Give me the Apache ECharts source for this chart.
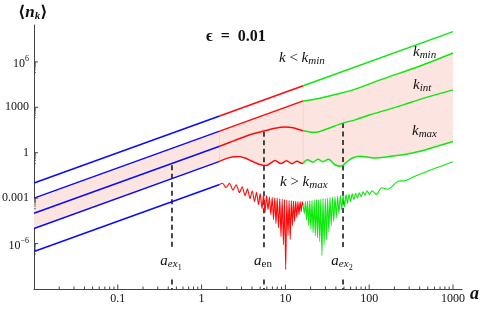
<!DOCTYPE html>
<html><head><meta charset="utf-8">
<script src="https://cdn.jsdelivr.net/npm/echarts@6/dist/echarts.min.js"></script>
<style>html,body{margin:0;padding:0;background:#fff}#c{width:481px;height:310px}</style>
</head><body><div id="c"></div>
<script>
// ---------- axis ticks / labels ----------
const xTickValues = [0.1, 1, 10, 100, 1000];
const xTickLabels = ['0.1', '1', '10', '100', '1000'];
const yTickValues = [1e6, 1000, 1, 0.001, 1e-6];
const yTickLabels = ['{m|10}{s|6}', '1000', '1', '0.001', '{m|10}{s|\u22126}'];
const xDecades = [0.01, 0.1, 1, 10, 100];

// ---------- colour ranges (a where colour switches) ----------
const aSplit = [1.64, 16.3];

// ---------- curves: [a, <n_k>] ----------
const kLow = [[0.01, 0.01], [1.64, 269], [16.3, 26600], [1000, 1.0e8]];
const kMin = [[0.01, 0.001], [1.64, 26.9], [16.3, 2660], [25.9, 4030], [40.2, 7160], [64.1, 14200],
  [135, 64700], [404, 542000], [1000, 3.9e6]];
const kInt = [[0.01, 1e-4], [1.64, 2.69], [2.18, 4.91], [3.01, 9.72], [4.11, 17.8], [5.71, 28.1],
  [7.51, 41.1], [9.89, 49.3], [12.3, 44.4], [14.9, 32.7], [16.3, 28.1], [19.7, 23.1], [23.2, 22.4],
  [27.3, 28.1], [34.1, 44.4], [48.3, 90.5], [67.7, 149], [102, 319], [163, 681], [255, 1455],
  [404, 3350], [639, 7160], [1000, 14190]];
const kMax = [[0.01, 1e-5], [1.64, 0.27], [1.96, 0.41], [2.31, 0.53], [2.72, 0.56], [3.30, 0.446],
  [4.0, 0.274], [4.84, 0.174], [5.87, 0.143], [6.64, 0.203], [7.51, 0.305], [8.86, 0.194],
  [10.31, 0.296], [11.98, 0.188], [13.75, 0.274], [15.78, 0.194], [16.3, 0.203], [18.35, 0.344],
  [21.3, 0.235], [24.5, 0.372], [28.1, 0.254], [32.7, 0.372], [39.1, 0.161], [46.1, 0.128],
  [54.3, 0.254], [64.1, 0.467], [77.7, 0.586], [96.7, 0.504], [120.5, 0.446], [154, 0.504],
  [203, 0.632], [275, 0.794], [404, 1.25], [644, 2.67], [1000, 5.54]];
const kHigh = [[0.01, 2.97e-7], [1.64, 0.0080],
  [1.78, 0.00973], [1.96, 0.00491], [2.15, 0.00973], [2.37, 0.00336], [2.59, 0.00775], [2.83, 0.0023],
  [3.05, 0.00572], [3.30, 0.00146], [3.53, 0.00422], [3.78, 0.000926], [4.02, 0.00312], [4.28, 0.000587],
  [4.52, 0.00248], [4.78, 0.000372], [5.00, 0.00198], [5.26, 0.000203], [5.48, 0.0017], [5.71, 0.000111],
  [5.95, 0.00146], [6.20, 0.000174], [6.44, 0.00125], [6.70, 0.0000816], [6.96, 0.00116], [7.21, 0.0000382],
  [7.47, 0.00108], [7.72, 0.0000208], [7.98, 0.000999], [8.27, 0.0000113], [8.57, 0.000926], [8.86, 0.00000289],
  [9.16, 0.000858], [9.47, 8.59e-7], [9.76, 0.000795], [10.08, 1.93e-8], [10.39, 0.000737], [10.74, 0.00000337],
  [11.07, 0.000683], [11.41, 0.00000183], [11.76, 0.000683], [12.12, 0.0000154], [12.49, 0.000633],
  [12.88, 0.0000282], [13.27, 0.000633], [13.68, 0.0000518], [14.10, 0.000587], [14.53, 0.0000816],
  [14.98, 0.000587], [15.44, 0.000129], [15.87, 0.000587], [16.3, 0.00032],
  [16.81, 0.000095], [17.33, 0.000587], [17.86, 0.0000382], [18.40, 0.000633], [18.97, 0.0000154],
  [19.55, 0.000683], [20.15, 0.00000837], [20.77, 0.000683], [21.40, 0.00000531], [22.06, 0.000737],
  [22.74, 0.00000337], [23.44, 0.000795], [24.15, 0.00000249], [24.90, 0.000795], [25.66, 0.00000135],
  [26.45, 0.000858], [27.26, 1.62e-7], [28.10, 0.000926], [28.96, 8.59e-7], [29.93, 0.000926],
  [30.84, 0.00000183], [31.88, 0.000999], [32.95, 0.00000618], [34.06, 0.00108], [35.20, 0.0000154],
  [36.48, 0.00116], [37.71, 0.0000282], [39.08, 0.00125], [40.50, 0.0000518], [41.97, 0.00135],
  [43.49, 0.000095], [45.20, 0.00146], [46.97, 0.000174], [48.82, 0.00157], [50.73, 0.000275],
  [52.87, 0.0017], [55.08, 0.000433], [57.41, 0.00183], [59.98, 0.000587], [62.68, 0.00198],
  [65.68, 0.000795], [68.82, 0.00213], [72.31, 0.000999], [75.98, 0.0023], [80.04, 0.00125],
  [84.33, 0.00268], [89.10, 0.00157], [94.1, 0.00312], [100.8, 0.0017], [108, 0.00312], [122.2, 0.0017],
  [140.2, 0.00491], [167.6, 0.00391], [220.7, 0.0132], [267.4, 0.0142], [352, 0.0282], [463.5, 0.0517],
  [610, 0.0948], [802.6, 0.161], [1000, 0.254]];

// ---------- marked epochs ----------
const markA = [0.443, 5.55, 48.7];
const markTop = [0.15, 24.2, 90.6];
const markNames = ['{a|a}{sb|ex}{ss|1}', '{a|a}{sr|en}', '{a|a}{sb|ex}{ss|2}'];

// ---------- layout / style ----------
const xMin = 0.01, xMax = 1280, yMin = 1e-9, yMax = 2.74e8;
const gapTop = 4e-7, gapBottom = 4.2e-9;
const segColors = ['#0a0aff', '#ff0a0a', '#0ee80e'];
const serif = '"Liberation Serif","DejaVu Serif",serif';
const axisColor = '#444';
const fillColor = '#fce4e0';

const chart = echarts.init(document.getElementById('c'), null, {renderer: 'canvas'});

function logIdx(vals, v) {
  const lv = Math.log10(v);
  return vals.findIndex(t => Math.abs(Math.log10(t) - lv) < 1e-6);
}

const series = [];
// pink band between k_min and k_max
series.push({
  type: 'custom', coordinateSystem: 'cartesian2d', data: [[1, 1]], silent: true, z: 1,
  renderItem: function (params, api) {
    const top = kMin.map(p => api.coord(p));
    const bottom = kMax.slice().reverse().map(p => api.coord(p));
    const children = [{type: 'polygon', shape: {points: top.concat(bottom)}, style: {fill: fillColor}}];
    aSplit.forEach(a => {
      const p1 = api.coord(kMin.find(p => p[0] === a));
      const p2 = api.coord(kMax.find(p => p[0] === a));
      children.push({type: 'line', shape: {x1: p1[0], y1: p1[1], x2: p2[0], y2: p2[1]},
        style: {stroke: '#f4cfc8', lineWidth: 0.8}});
    });
    return {type: 'group', children: children};
  }
});
// ticks
series.push({
  type: 'custom', coordinateSystem: 'cartesian2d', data: [[1, 1]], silent: true, z: 6,
  renderItem: function (params, api) {
    const ch = [];
    const st = {stroke: axisColor, lineWidth: 1};
    xTickValues.forEach(v => { const p = api.coord([v, yMin]);
      ch.push({type: 'line', shape: {x1: p[0], y1: p[1], x2: p[0], y2: p[1] - 4.5}, style: st}); });
    xDecades.forEach(d => { for (let k = 2; k <= 9; k++) { const p = api.coord([k * d, yMin]);
      ch.push({type: 'line', shape: {x1: p[0], y1: p[1], x2: p[0], y2: p[1] - 2.5}, style: st}); } });
    yTickValues.forEach(v => { const p = api.coord([xMin, v]);
      ch.push({type: 'line', shape: {x1: p[0], y1: p[1], x2: p[0] + 4, y2: p[1]}, style: st});
      for (let k = 2; k <= 9; k++) { const q = api.coord([xMin, k * v / 10]);
        ch.push({type: 'line', shape: {x1: q[0], y1: q[1], x2: q[0] + 2, y2: q[1]}, style: {stroke: axisColor, lineWidth: 0.7}}); }
    });
    return {type: 'group', children: ch};
  }
});
// curves, split by colour
const ranges = [[0, aSplit[0]], [aSplit[0], aSplit[1]], [aSplit[1], Infinity]];
[kLow, kMin, kInt, kMax, kHigh].forEach((pts, ci) => {
  ranges.forEach((r, si) => {
    series.push({
      type: 'line', data: pts.filter(p => p[0] >= r[0] && p[0] <= r[1]),
      showSymbol: false, symbol: 'none', smooth: ci === 4 ? 0.2 : 0.3, silent: true, z: 4,
      lineStyle: {color: segColors[si], width: (ci === 4 && si > 0) ? 1.1 : 1.5}
    });
  });
});
// dashed markers
markA.forEach((a, i) => {
  series.push({
    type: 'line', data: [[a, markTop[i]], [a, gapTop], [a, '-'], [a, gapBottom], [a, yMin]],
    showSymbol: false, symbol: 'none', silent: true, z: 3, connectNulls: false,
    lineStyle: {color: '#1a1a1a', width: 1.6, type: [5, 3.5]}
  });
});

const graphic = [];
function addText(x, y, text, rich, align) {
  graphic.push({type: 'text', x: x, y: y, silent: true, z: 100, zlevel: 0,
    style: {text: text, rich: rich, align: align || 'left', verticalAlign: 'middle', fill: '#111',
      fontFamily: serif, fontSize: 14}});
}
const kRich = {
  i: {fontFamily: serif, fontStyle: 'italic', fontSize: 15, color: '#111'},
  r: {fontFamily: serif, fontSize: 15, color: '#111'},
  sub: {fontFamily: serif, fontStyle: 'italic', fontSize: 11, color: '#111', padding: [7, 0, 0, 0]}
};
const aRich = {
  a: {fontFamily: serif, fontStyle: 'italic', fontSize: 15, color: '#111'},
  sb: {fontFamily: serif, fontStyle: 'italic', fontSize: 11, color: '#111', padding: [7, 0, 0, 0]},
  sr: {fontFamily: serif, fontSize: 11, color: '#111', padding: [7, 0, 0, 0]},
  ss: {fontFamily: serif, fontSize: 8, color: '#111', padding: [14, 0, 0, 0]}
};
const markLabelX = [171, 263, 342];
markNames.forEach((t, i) => addText(markLabelX[i], 261, t, aRich, 'center'));
addText(18, 13, '{t|\u27e8}{n|n}{k|k}{t|\u27e9}', {
  t: {fontFamily: serif, fontWeight: 'bold', fontSize: 16, color: '#111'},
  n: {fontFamily: serif, fontWeight: 'bold', fontStyle: 'italic', fontSize: 17, color: '#111'},
  k: {fontFamily: serif, fontWeight: 'bold', fontStyle: 'italic', fontSize: 11, color: '#111', padding: [7, 0, 0, 0]}
});
addText(206, 37, '{e|\u03f5  =  0.01}', {e: {fontFamily: serif, fontWeight: 'bold', fontSize: 16, color: '#111'}});
addText(279, 58, '{i|k}{r| < }{i|k}{sub|min}', kRich);
addText(280, 182, '{i|k}{r| > }{i|k}{sub|max}', kRich);
addText(413, 52, '{i|k}{sub|min}', kRich);
addText(413, 85, '{i|k}{sub|int}', kRich);
addText(412, 131, '{i|k}{sub|max}', kRich);
addText(470, 294, '{a|a}', {a: {fontFamily: serif, fontWeight: 'bold', fontStyle: 'italic', fontSize: 18, color: '#111'}});

const option = {
  animation: false,
  backgroundColor: '#ffffff',
  grid: {left: 34, right: 19, top: 25, bottom: 21, containLabel: false, outerBoundsMode: 'none'},
  xAxis: {
    type: 'log', logBase: 10, min: xMin, max: xMax, interval: 1, position: 'bottom',
    axisLine: {show: true, lineStyle: {color: axisColor, width: 1}},
    axisTick: {show: false}, minorTick: {show: false}, splitLine: {show: false},
    axisLabel: {show: true, interval: 0, margin: 4, color: '#111', fontFamily: serif, fontSize: 12,
      showMinLabel: true, showMaxLabel: true,
      formatter: function (v) { const i = logIdx(xTickValues, v); return i < 0 ? '' : xTickLabels[i]; }}
  },
  yAxis: {
    type: 'log', logBase: 10, min: yMin, max: yMax, interval: 3, position: 'left',
    axisLine: {show: true, lineStyle: {color: axisColor, width: 1}},
    axisTick: {show: false}, minorTick: {show: false}, splitLine: {show: false},
    axisLabel: {show: true, interval: 0, margin: 5, color: '#111', fontFamily: serif, fontSize: 12,
      formatter: function (v) { const i = logIdx(yTickValues, v); return i < 0 ? '' : yTickLabels[i]; },
      rich: {
        m: {fontFamily: serif, fontSize: 12, color: '#111', padding: [4, 0, 0, 0]},
        s: {fontFamily: serif, fontSize: 8, color: '#111', padding: [0, 0, 6, 0]}
      }}
  },
  graphic: {elements: graphic},
  series: series
};
chart.setOption(option);
</script></body></html>
